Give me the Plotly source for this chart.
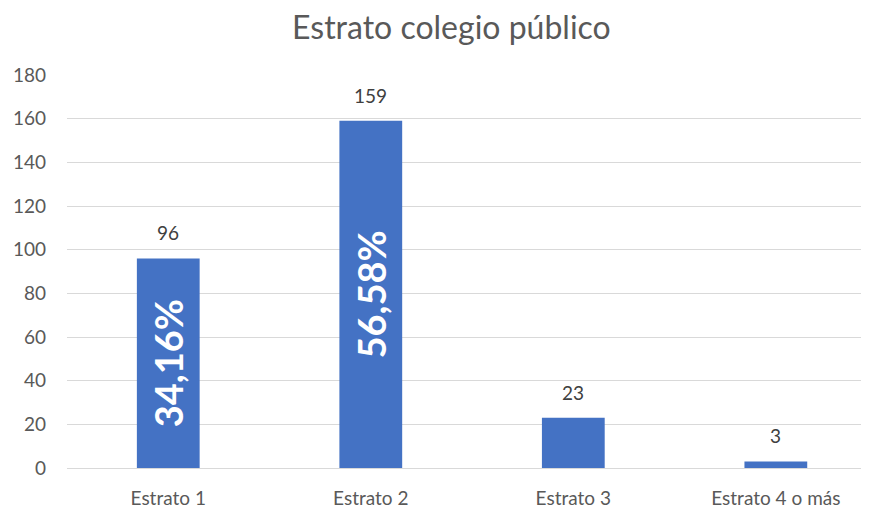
import plotly.graph_objects as go

categories = ["Estrato 1", "Estrato 2", "Estrato 3", "Estrato 4 o más"]
values = [96, 159, 23, 3]
pct_labels = ["34,16%", "56,58%", "", ""]
y_ticks = [0, 20, 40, 60, 80, 100, 120, 140, 160, 180]

FONT = "Lato, 'Open Sans', sans-serif"
GREY = "#595959"

fig = go.Figure()
fig.add_trace(go.Bar(
    x=categories, y=values,
    width=0.31,
    marker=dict(color="#4472C4", line=dict(width=0)),
    text=pct_labels,
    textposition="inside",
    insidetextanchor="middle",
    textangle=-90,
    textfont=dict(family=FONT, size=38, color="white", weight="bold"),
    hoverinfo="skip",
))

for c, v in zip(categories, values):
    fig.add_annotation(x=c, y=v, text=str(v), showarrow=False,
                       yanchor="bottom", yshift=12,
                       font=dict(family=FONT, size=19, color="#404040"))

fig.update_layout(
    width=861, height=503,
    margin=dict(l=59, r=0, t=67, b=43),
    paper_bgcolor="white", plot_bgcolor="white",
    showlegend=False,
    title=dict(text="Estrato colegio público", x=0.515, xanchor="center",
               y=0.96, yanchor="middle",
               font=dict(family=FONT, size=32, color=GREY)),
    xaxis=dict(range=[-0.5, 3.46], showgrid=False, showline=False, zeroline=False,
               ticks="", ticklabelstandoff=17,
               tickfont=dict(family=FONT, size=19, color=GREY)),
    yaxis=dict(range=[0, 180], tickvals=y_ticks, showgrid=True, gridcolor="#D9D9D9",
               gridwidth=1, zeroline=True, zerolinecolor="#D9D9D9", zerolinewidth=1,
               showline=False, ticks="", ticklabelstandoff=20,
               tickfont=dict(family=FONT, size=19, color=GREY)),
    uniformtext=dict(mode=False),
)

fig.write_html("out.html")
